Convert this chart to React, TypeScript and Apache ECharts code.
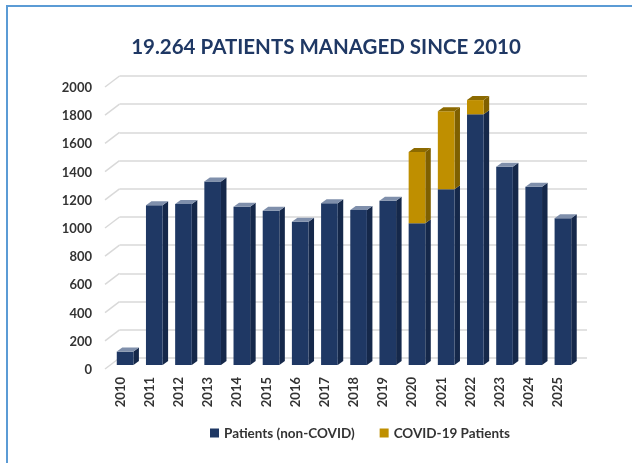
import React, { useEffect, useRef } from "react";
import * as echarts from "echarts";

const years = ["2010","2011","2012","2013","2014","2015","2016","2017","2018","2019","2020","2021","2022","2023","2024","2025"];
const nonCovid = [95, 1133, 1142, 1301, 1123, 1094, 1016, 1147, 1099, 1165, 1005, 1246, 1778, 1406, 1265, 1040];
const covid = [0, 0, 0, 0, 0, 0, 0, 0, 0, 0, 506, 553, 101, 0, 0, 0];
const yTicks = [0, 200, 400, 600, 800, 1000, 1200, 1400, 1600, 1800, 2000];

const FONT = "Lato, 'Open Sans', sans-serif";
const DX = 5.5;
const DY = 4;

function makeRender(front: string, side: string, top: string) {
  return (params: any, api: any) => {
    const i = api.value(0);
    const b = api.value(1);
    const t = api.value(2);
    const hasTop = api.value(3);
    const p0 = api.coord([i, b]);
    const p1 = api.coord([i, t]);
    const w = api.size([1, 0])[0] * 0.57;
    const x0 = p0[0] - w / 2;
    const x1 = p0[0] + w / 2;
    const yb = p0[1];
    const yt = p1[1];
    const children: any[] = [
      {
        type: "polygon",
        shape: { points: [[x1, yt], [x1 + DX, yt - DY], [x1 + DX, yb - DY], [x1, yb]] },
        style: { fill: side },
      },
      {
        type: "rect",
        shape: { x: x0, y: yt, width: w, height: yb - yt },
        style: { fill: front },
      },
    ];
    if (hasTop) {
      children.push({
        type: "polygon",
        shape: { points: [[x0, yt], [x0 + DX, yt - DY], [x1 + DX, yt - DY], [x1, yt]] },
        style: { fill: top },
      });
    }
    return { type: "group", children };
  };
}

export default function App() {
  const ref = useRef<HTMLDivElement>(null);
  useEffect(() => {
    if (!ref.current) return;
    const chart = echarts.init(ref.current, undefined, { renderer: "svg" });
    const navyData = years.map((_, i) => [i, 0, nonCovid[i], covid[i] > 0 ? 0 : 1]);
    const goldData = years
      .map((_, i) => [i, nonCovid[i], nonCovid[i] + covid[i], 1])
      .filter((d) => covid[d[0]] > 0);
    const labelStyle = { fontFamily: FONT, fontWeight: "bold" as const, fontSize: 13, color: "#333333" };
    chart.setOption({
      animation: false,
      graphic: [
        {
          type: "polyline",
          shape: { points: [[7, 463], [7, 6], [632, 6]] },
          style: { stroke: "#5B9BD5", lineWidth: 2, fill: "none" },
        },
        {
          type: "text",
          x: 326,
          y: 46,
          style: {
            text: "19.264 PATIENTS MANAGED SINCE 2010",
            fontFamily: FONT,
            fontWeight: "bold",
            fontSize: 20.5,
            fill: "#1F3864",
            align: "center",
            verticalAlign: "middle",
          },
        },
      ],
      legend: {
        left: 205,
        top: 421,
        itemWidth: 9,
        itemHeight: 9,
        itemGap: 25,
        icon: "rect",
        textStyle: { ...labelStyle, fontSize: 13.5 },
        data: ["Patients (non-COVID)", "COVID-19 Patients"],
      },
      grid: [
        { left: 119.5, top: 76, width: 467.5, height: 282 },
        { left: 105, top: 87, width: 467, height: 282 },
        { left: 110.5, top: 83, width: 467, height: 282 },
      ],
      xAxis: [
        { type: "category", gridIndex: 0, data: years, show: false },
        {
          type: "category",
          gridIndex: 1,
          data: years,
          axisLine: { show: false },
          axisTick: { show: false },
          axisLabel: { ...labelStyle, rotate: 90, margin: 8, interval: 0 },
        },
        { type: "category", gridIndex: 2, data: years, show: false },
      ],
      yAxis: [
        {
          type: "value",
          gridIndex: 0,
          min: 0,
          max: 2000,
          interval: 200,
          axisLabel: { show: false },
          axisLine: { show: false },
          axisTick: { show: false },
          splitLine: { lineStyle: { color: "#D9D9D9", width: 1.5 } },
        },
        {
          type: "value",
          gridIndex: 1,
          min: 0,
          max: 2000,
          interval: 200,
          axisLine: { show: false },
          axisTick: { show: false },
          splitLine: { show: false },
          axisLabel: { ...labelStyle, margin: 13, formatter: (v: number) => String(v) },
        },
        { type: "value", gridIndex: 2, min: 0, max: 2000, interval: 200, show: false, splitLine: { show: false } },
      ],
      series: [
        {
          type: "custom",
          name: "diag",
          xAxisIndex: 1,
          yAxisIndex: 1,
          silent: true,
          data: yTicks.map((v) => [0, v]),
          renderItem: (params: any, api: any) => {
            const y = api.coord([0, api.value(1)])[1];
            const x = params.coordSys.x;
            return {
              type: "line",
              shape: { x1: x, y1: y, x2: x + 14.5, y2: y - 11 },
              style: { stroke: "#D9D9D9", lineWidth: 1.5 },
            };
          },
        },
        {
          type: "custom",
          name: "Patients (non-COVID)",
          xAxisIndex: 2,
          yAxisIndex: 2,
          itemStyle: { color: "#1F3864" },
          data: navyData,
          renderItem: makeRender("#1F3864", "#15284A", "#7F8FAB"),
        },
        {
          type: "custom",
          name: "COVID-19 Patients",
          xAxisIndex: 2,
          yAxisIndex: 2,
          itemStyle: { color: "#BF8F00" },
          data: goldData,
          renderItem: makeRender("#BF8F00", "#7F6000", "#8C6A00"),
        },
      ],
    });
    return () => chart.dispose();
  }, []);
  return <div ref={ref} style={{ position: "fixed", left: 0, top: 0, width: 632, height: 463 }} />;
}
